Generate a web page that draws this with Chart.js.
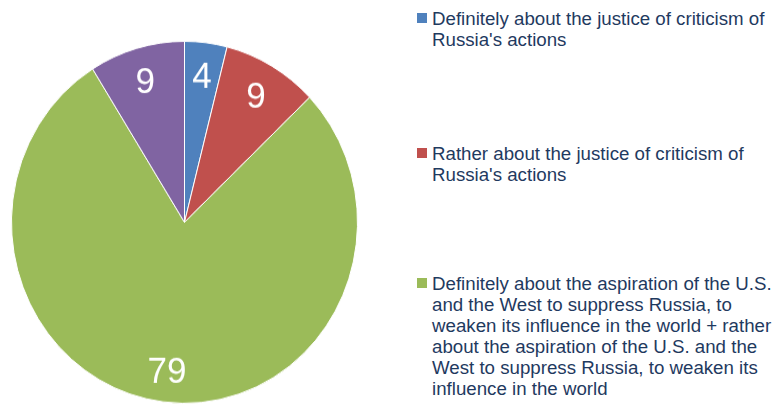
<!DOCTYPE html>
<html>
<head>
<meta charset="utf-8">
<script src="https://cdn.jsdelivr.net/npm/chart.js@4/dist/chart.umd.min.js"></script>
<style>
html,body{margin:0;padding:0;background:#fff;width:775px;height:406px;overflow:hidden;}
#pieWrap{position:absolute;left:0;top:0;width:369px;height:386px;transform:scaleY(1.046);transform-origin:0 0;}
.item{position:absolute;left:417px;font-family:"Liberation Sans",Arial,Helvetica,sans-serif;font-size:18.7px;line-height:21px;color:#1F3A5F;white-space:nowrap;}
.sw{position:absolute;left:0;top:5px;width:10px;height:10px;}
.txt{position:absolute;left:15px;top:0;}
</style>
</head>
<body>
<div id="pieWrap"><canvas id="c"></canvas></div>
<div id="legend"></div>
<script>
const categories = [
  ["Definitely about the justice of criticism of", "Russia's actions"],
  ["Rather about the justice of criticism of", "Russia's actions"],
  ["Definitely about the aspiration of the U.S.", "and the West to suppress Russia, to", "weaken its influence in the world + rather", "about the aspiration of the U.S. and the", "West to suppress Russia, to weaken its", "influence in the world"],
  ["Hard to say"]
];
const values = [4, 9, 79, 9];
const colors = ["#4F81BD", "#C0504D", "#9BBB59", "#8064A2"];
const legendShown = [true, true, true, false];
const legendTops = [8, 143, 273];

// HTML legend
const legend = document.getElementById('legend');
let li = 0;
categories.forEach((lines, i) => {
  if (!legendShown[i]) return;
  const d = document.createElement('div');
  d.className = 'item';
  d.style.top = legendTops[li++] + 'px';
  const sw = document.createElement('div');
  sw.className = 'sw';
  sw.style.background = colors[i];
  const t = document.createElement('div');
  t.className = 'txt';
  t.innerHTML = lines.map(s => s.replace(/&/g,'&amp;').replace(/</g,'&lt;')).join('<br>');
  d.appendChild(sw); d.appendChild(t);
  legend.appendChild(d);
});

const sliceLabels = {
  id: 'sliceLabels',
  afterDatasetsDraw(chart) {
    const ctx = chart.ctx;
    const meta = chart.getDatasetMeta(0);
    const fs = 35;
    ctx.save();
    ctx.fillStyle = '#FFFFFF';
    ctx.font = fs + 'px "Liberation Sans", Arial, Helvetica, sans-serif';
    ctx.textAlign = 'center';
    ctx.textBaseline = 'alphabetic';
    meta.data.forEach((arc, i) => {
      const p = arc.getProps(['x','y','startAngle','endAngle','outerRadius'], true);
      const mid = (p.startAngle + p.endAngle) / 2;
      const r = p.outerRadius * 0.82;
      const x = p.x + Math.cos(mid) * r;
      const y = p.y + Math.sin(mid) * r + fs * 0.358;
      ctx.fillText(String(chart.data.datasets[0].data[i]), x, y);
    });
    ctx.restore();
  }
};

new Chart(document.getElementById('c'), {
  type: 'pie',
  data: {
    labels: categories.map(l => l.join(' ')),
    datasets: [{
      data: values,
      backgroundColor: colors,
      borderColor: '#FFFFFF',
      borderWidth: 1,
      hoverOffset: 0
    }]
  },
  options: {
    responsive: true,
    maintainAspectRatio: false,
    animation: false,
    layout: { padding: { top: 39, bottom: 0, left: 0, right: 0 } },
    plugins: {
      legend: { display: false },
      tooltip: { enabled: false }
    }
  },
  plugins: [sliceLabels]
});
</script>
</body>
</html>
